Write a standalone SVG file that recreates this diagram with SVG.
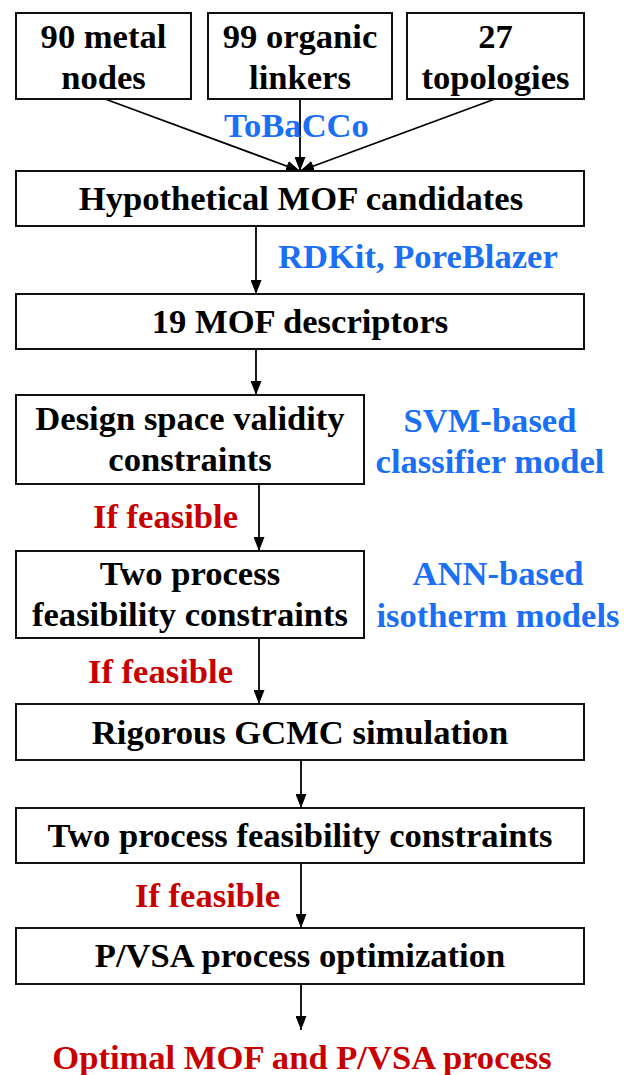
<svg xmlns="http://www.w3.org/2000/svg" width="624" height="1075" viewBox="0 0 624 1075">
<defs>
<style>
text{font-family:'Liberation Serif','Times New Roman','DejaVu Serif',serif;font-weight:bold;font-size:34.6px}
.box{fill:#fff;stroke:#111;stroke-width:2}
.t{fill:#000;text-anchor:middle}
.blue{fill:#1a6ff5;text-anchor:middle}
.red{fill:#c80000;text-anchor:end}
.c{stroke:#000;stroke-width:1.8;fill:none}
</style>
<marker id="ah" viewBox="0 0 14 11" refX="14" refY="5.5" markerWidth="14" markerHeight="11" markerUnits="userSpaceOnUse" orient="auto">
<path d="M0,0 L14,5.5 L0,11 Z" fill="#000"/>
</marker>
</defs>
<rect width="624" height="1075" fill="#fff"/>
<g id="connectors">
<line class="c" x1="105" y1="99" x2="300" y2="171" marker-end="url(#ah)"/>
<line class="c" x1="300" y1="99" x2="300" y2="171" marker-end="url(#ah)"/>
<line class="c" x1="495" y1="99" x2="300" y2="171" marker-end="url(#ah)"/>
<line class="c" x1="256" y1="226" x2="256" y2="294" marker-end="url(#ah)"/>
<line class="c" x1="256" y1="349" x2="256" y2="395" marker-end="url(#ah)"/>
<line class="c" x1="259" y1="484" x2="259" y2="551" marker-end="url(#ah)"/>
<line class="c" x1="259" y1="638" x2="259" y2="704" marker-end="url(#ah)"/>
<line class="c" x1="301" y1="760" x2="301" y2="808" marker-end="url(#ah)"/>
<line class="c" x1="301" y1="863" x2="301" y2="928" marker-end="url(#ah)"/>
<line class="c" x1="301" y1="984" x2="301" y2="1030" marker-end="url(#ah)"/>
</g>
<g id="n-metal"><rect class="box" x="16" y="13" width="175" height="86"/><text class="t" x="103.5" y="48">90 metal</text><text class="t" x="103.5" y="89">nodes</text></g>
<g id="n-linkers"><rect class="box" x="208" y="13" width="184" height="86"/><text class="t" x="300" y="48">99 organic</text><text class="t" x="300" y="89">linkers</text></g>
<g id="n-topo"><rect class="box" x="407" y="13" width="177" height="86"/><text class="t" x="495.5" y="48">27</text><text class="t" x="495.5" y="89">topologies</text></g>
<g id="l-tobacco"><text class="blue" x="296.5" y="137">ToBaCCo</text></g>
<g id="n-hypo"><rect class="box" x="16" y="171" width="568" height="55"/><text class="t" x="301" y="210">Hypothetical MOF candidates</text></g>
<g id="l-rdkit"><text class="blue" x="278" y="268" style="text-anchor:start">RDKit, PoreBlazer</text></g>
<g id="n-desc"><rect class="box" x="16" y="294" width="568" height="55"/><text class="t" x="300" y="333">19 MOF descriptors</text></g>
<g id="n-design"><rect class="box" x="16" y="395" width="348" height="89"/><text class="t" x="190" y="430">Design space validity</text><text class="t" x="190" y="471">constraints</text></g>
<g id="l-svm"><text class="blue" x="490" y="432">SVM-based</text><text class="blue" x="490" y="473">classifier model</text></g>
<g id="l-if1"><text class="red" x="238" y="528">If feasible</text></g>
<g id="n-two1"><rect class="box" x="16" y="551" width="348" height="87"/><text class="t" x="190" y="585">Two process</text><text class="t" x="190" y="626">feasibility constraints</text></g>
<g id="l-ann"><text class="blue" x="498" y="585">ANN-based</text><text class="blue" x="498" y="627">isotherm models</text></g>
<g id="l-if2"><text class="red" x="233" y="683">If feasible</text></g>
<g id="n-gcmc"><rect class="box" x="16" y="704" width="568" height="56"/><text class="t" x="300" y="744">Rigorous GCMC simulation</text></g>
<g id="n-two2"><rect class="box" x="16" y="808" width="568" height="55"/><text class="t" x="300" y="847">Two process feasibility constraints</text></g>
<g id="l-if3"><text class="red" x="280" y="907">If feasible</text></g>
<g id="n-pvsa"><rect class="box" x="16" y="928" width="568" height="56"/><text class="t" x="300" y="967">P/VSA process optimization</text></g>
<g id="l-optimal"><text class="t" x="302" y="1069" style="fill:#c80000">Optimal MOF and P/VSA process</text></g>
</svg>
